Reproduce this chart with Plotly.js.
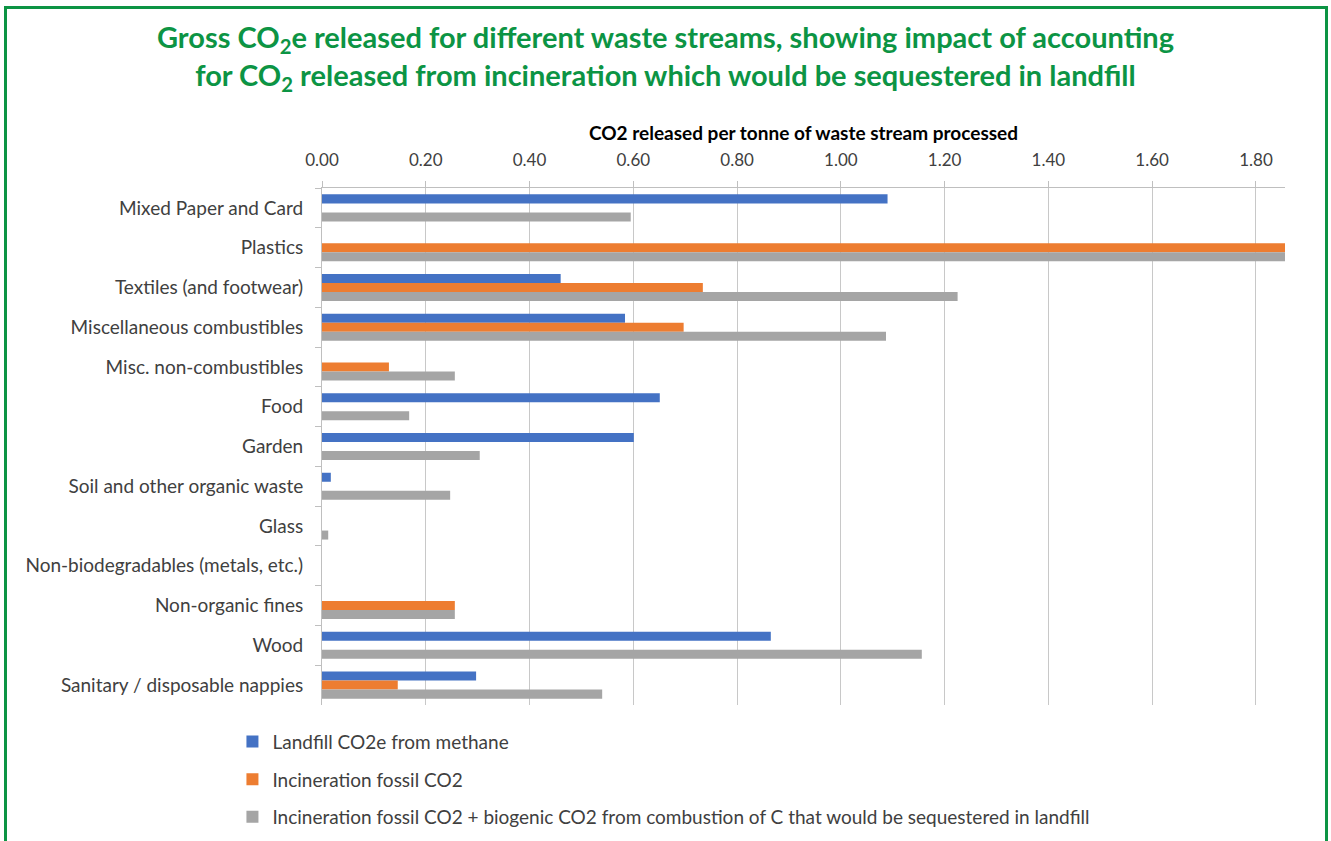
<!DOCTYPE html>
<html>
<head>
<meta charset="utf-8">
<script src="https://cdn.plot.ly/plotly-3.0.1.min.js"></script>
<style>
  html, body { margin: 0; padding: 0; background: #ffffff; }
  #frame { position: absolute; left: 4px; top: 6px; width: 1318px; height: 900px; border: 3px solid #0c9444; box-sizing: content-box; }
  #chart { position: absolute; left: 0; top: 0; width: 1331px; height: 841px; }
</style>
</head>
<body>
<div id="frame"></div>
<div id="chart"></div>
<script>
const categories = [
  "Mixed Paper and Card",
  "Plastics",
  "Textiles (and footwear)",
  "Miscellaneous combustibles",
  "Misc. non-combustibles",
  "Food",
  "Garden",
  "Soil and other organic waste",
  "Glass",
  "Non-biodegradables (metals, etc.)",
  "Non-organic fines",
  "Wood",
  "Sanitary / disposable nappies"
];
const seriesNames = [
  "Landfill CO2e from methane",
  "Incineration fossil CO2",
  "Incineration fossil CO2 + biogenic CO2 from combustion of C that would be sequestered in landfill"
];
const landfillMethane = [1.09, 0, 0.46, 0.584, 0, 0.651, 0.601, 0.017, 0, 0, 0, 0.865, 0.297];
const incinFossil     = [0, 1.87, 0.734, 0.697, 0.129, 0, 0, 0, 0, 0, 0.256, 0, 0.146];
const incinTotal      = [0.595, 1.87, 1.225, 1.087, 0.256, 0.168, 0.304, 0.247, 0.012, 0, 0.256, 1.156, 0.54];
const xTickVals  = [0, 0.2, 0.4, 0.6, 0.8, 1.0, 1.2, 1.4, 1.6, 1.8];
const xTickText  = ["0.00", "0.20", "0.40", "0.60", "0.80", "1.00", "1.20", "1.40", "1.60", "1.80"];
const colors = ["#4472C4", "#ED7D31", "#A5A5A5"];

const seriesValues = [landfillMethane, incinFossil, incinTotal];
const traces = seriesValues.map((vals, i) => ({
  type: "bar",
  orientation: "h",
  name: seriesNames[i],
  legendgroup: "g" + i,
  y: categories,
  x: vals,
  marker: { color: colors[i] },
  hoverinfo: "x+y"
}));

const font = "Lato, 'Open Sans', sans-serif";
const layout = {
  width: 1331,
  height: 841,
  paper_bgcolor: "rgba(0,0,0,0)",
  plot_bgcolor: "rgba(0,0,0,0)",
  margin: { l: 322, r: 46, t: 188, b: 136 },
  barmode: "group",
  bargap: 0.32,
  bargroupgap: 0,
  title: {
    text: "Gross CO<sub>2</sub>e released for different waste streams, showing impact of accounting<br>for CO<sub>2</sub> released from incineration which would be sequestered in landfill",
    font: { family: font, size: 29, color: "#0c9444", weight: "bold" },
    x: 0.5, xanchor: "center", xref: "container",
    y: 0.943, yanchor: "middle", yref: "container"
  },
  font: { family: font, color: "#404040" },
  xaxis: {
    side: "top",
    range: [0, 1.856],
    tickvals: xTickVals,
    ticktext: xTickText,
    tickfont: { size: 17, color: "#404040" },
    ticklabelstandoff: 8,
    showgrid: true,
    gridcolor: "#c8c8c8",
    gridwidth: 1,
    showline: true,
    linecolor: "#bfbfbf",
    ticks: "outside",
    ticklen: 6,
    tickcolor: "#bfbfbf",
    zeroline: false,
    title: {
      text: "<b>CO2 released per tonne of waste stream processed</b>",
      font: { size: 19, color: "#000000" },
      standoff: 3
    },
    fixedrange: true
  },
  yaxis: {
    type: "category",
    autorange: "reversed",
    tickfont: { size: 19, color: "#404040" },
    showline: true,
    linecolor: "#bfbfbf",
    ticks: "outside",
    tickson: "boundaries",
    ticklen: 6,
    tickcolor: "#bfbfbf",
    showgrid: false,
    ticklabelstandoff: 14,
    fixedrange: true
  },
  showlegend: true,
  legend: {
    orientation: "v",
    x: -0.093, xanchor: "left", xref: "paper",
    y: 0.1408, yanchor: "top", yref: "container",
    font: { size: 19, color: "#404040" },
    tracegroupgap: 10,
    traceorder: "grouped",
    bgcolor: "rgba(0,0,0,0)"
  }
};

Plotly.newPlot("chart", traces, layout, { displayModeBar: false, staticPlot: false });
</script>
</body>
</html>
